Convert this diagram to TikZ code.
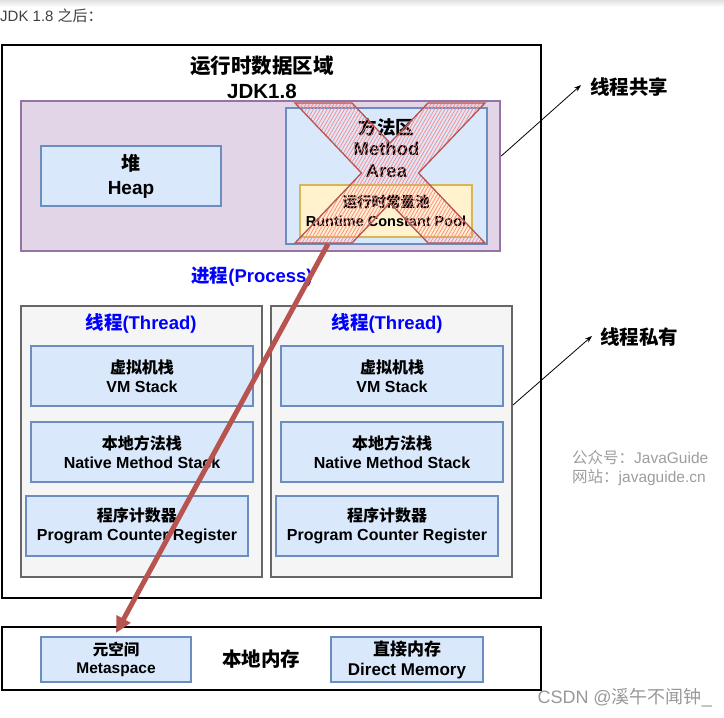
\documentclass[tikz,border=0pt]{standalone}
\usepackage{fontspec}
\setmainfont{Liberation Sans}
\newfontfamily\cjk{Noto Sans CJK SC}
\newcommand{\zhtxt}[1]{{\cjk #1}}
\usetikzlibrary{patterns.meta,arrows.meta}
\definecolor{purpleF}{HTML}{E1D5E7}
\definecolor{purpleD}{HTML}{9673A6}
\definecolor{blueF}{HTML}{DAE8FC}
\definecolor{blueD}{HTML}{6C8EBF}
\definecolor{yellowF}{HTML}{FFF2CC}
\definecolor{yellowD}{HTML}{D6B656}
\definecolor{redD}{HTML}{B85450}
\definecolor{grayF}{HTML}{F5F5F5}
\definecolor{grayD}{HTML}{666666}
\definecolor{procblue}{HTML}{0000FF}
\tikzset{
  bigbox/.style={draw=black, line width=2.5pt, fill=white, inner sep=0pt},
  purplebox/.style={draw=purpleD, fill=purpleF, line width=2.5pt, inner sep=0pt},
  bluebox/.style={draw=blueD, fill=blueF, line width=2pt, inner sep=0pt, align=center, font=\bfseries\fontsize{16}{19.5}\selectfont},
  yellowbox/.style={draw=yellowD, fill=yellowF, line width=2pt, inner sep=0pt},
  threadbox/.style={draw=grayD, fill=grayF, line width=2pt, inner sep=0pt},
  title/.style={align=center, font=\bfseries\fontsize{20.5}{25}\selectfont},
  bluelabel/.style={text=procblue, font=\bfseries\fontsize{18.5}{20}\selectfont},
  sidelabel/.style={font=\bfseries\fontsize{19.5}{22}\selectfont, inner sep=0pt},
  thinarrow/.style={draw=black, line width=0.8pt, -{Stealth[length=7pt,width=5pt]}},
  hatch/.style={pattern={Lines[angle=60,distance=3pt,line width=0.8pt]}, pattern color=red!45},
  watermark/.style={text=black!38, font=\fontsize{15.5}{20}\selectfont, anchor=west, inner sep=0pt},
}
\begin{document}
\begin{tikzpicture}[x=1pt,y=-1pt]
\useasboundingbox (0,0) rectangle (724,718);
\fill[white] (0,0) rectangle (724,718);
\shade[top color=black!12, bottom color=white] (0,0) rectangle (724,7);
\node[anchor=west, inner sep=0pt, text=black!75, font=\fontsize{15}{18}\selectfont] (hdr) at (0,16) {JDK 1.8 \zhtxt{之后：}};

% outer runtime data area
\node[bigbox, minimum width=539, minimum height=553] (rt) at (271.5,321.5) {};
\node[title] (rttitle) at (262,77) {\zhtxt{运行时数据区域}\\JDK1.8};

% shared area
\node[purplebox, minimum width=479, minimum height=150] (shared) at (260.5,176) {};
\node[bluebox, minimum width=180, minimum height=60, font=\bfseries\fontsize{19}{24}\selectfont] (heap) at (131,176) {\zhtxt{堆}\\Heap};
\node[bluebox, minimum width=201, minimum height=136] (method) at (386.5,176) {};
\node[align=center, font=\bfseries\fontsize{18.5}{21.5}\selectfont] (methodtxt) at (386.5,148) {\zhtxt{方法区}\\Method\\Area};
\node[yellowbox, minimum width=172, minimum height=52, align=center, font=\bfseries\fontsize{14.5}{19}\selectfont] (pool) at (386,211) {\zhtxt{运行时常量池}\\Runtime Constant Pool};

% red X
\draw[redD, line width=1.3pt, hatch] (295,103) -- (352,103) -- (390,143) -- (428,103) -- (485,103) -- (418.5,173) -- (485,243) -- (428,243) -- (390,203) -- (352,243) -- (295,243) -- (361.5,173) -- cycle;
\coordinate (xbottom) at (328,244);

\node[bluelabel] (proc) at (252,277) {\zhtxt{进程}(Process)};

% threads
\node[threadbox, minimum width=241, minimum height=271] (t1) at (141.5,441.5) {};
\node[threadbox, minimum width=241, minimum height=271] (t2) at (391.5,441.5) {};
\node[bluelabel] (t1lab) at (141,323) {\zhtxt{线程}(Thread)};
\node[bluelabel] (t2lab) at (387,323) {\zhtxt{线程}(Thread)};

\node[bluebox, minimum width=222, minimum height=60] (vm1) at (142,376) {\zhtxt{虚拟机栈}\\VM Stack};
\node[bluebox, minimum width=222, minimum height=60] (nm1) at (142,452) {\zhtxt{本地方法栈}\\Native Method Stack};
\node[bluebox, minimum width=222, minimum height=60] (pc1) at (137,526) {\zhtxt{程序计数器}\\Program Counter Register};
\node[bluebox, minimum width=222, minimum height=60] (vm2) at (392,376) {\zhtxt{虚拟机栈}\\VM Stack};
\node[bluebox, minimum width=222, minimum height=60] (nm2) at (392,452) {\zhtxt{本地方法栈}\\Native Method Stack};
\node[bluebox, minimum width=222, minimum height=60] (pc2) at (387,526) {\zhtxt{程序计数器}\\Program Counter Register};

% side labels
\node[sidelabel, anchor=west] (sharelab) at (590,87) {\zhtxt{线程共享}};
\node[sidelabel, anchor=west] (privlab) at (600,337) {\zhtxt{线程私有}};
\coordinate (sharetip) at (581,85);
\coordinate (privtip) at (592,336);
\draw[thinarrow] (shared.east |- 0,156) -- (sharetip);
\draw[thinarrow] (t2.east |- 0,405) -- (privtip);

\node[watermark] (wm1) at (572,458) {\zhtxt{公众号：}JavaGuide};
\node[watermark] (wm2) at (572,478) {\zhtxt{网站：}javaguide.cn};

% native memory
\node[bigbox, minimum width=539, minimum height=63] (native) at (271.5,658.5) {};
\node[bluebox, minimum width=150, minimum height=45, font=\bfseries\fontsize{15.5}{18}\selectfont] (meta) at (116,659.5) {\zhtxt{元空间}\\Metaspace};
\node[sidelabel] (nativelab) at (261,659) {\zhtxt{本地内存}};
\node[bluebox, minimum width=152, minimum height=45, font=\bfseries\fontsize{17}{20}\selectfont] (direct) at (407,659.5) {\zhtxt{直接内存}\\Direct Memory};

% red arrow
\coordinate (redend) at (116,633);
\draw[redD, line width=5pt, -{Triangle[length=16pt,width=15pt]}] (xbottom) -- (redend);

\node[anchor=east, inner sep=0pt, text=black!40, font=\fontsize{18}{20}\selectfont] (csdn) at (712,698) {CSDN @\zhtxt{溪午不闻钟}\_};
\end{tikzpicture}
\end{document}
